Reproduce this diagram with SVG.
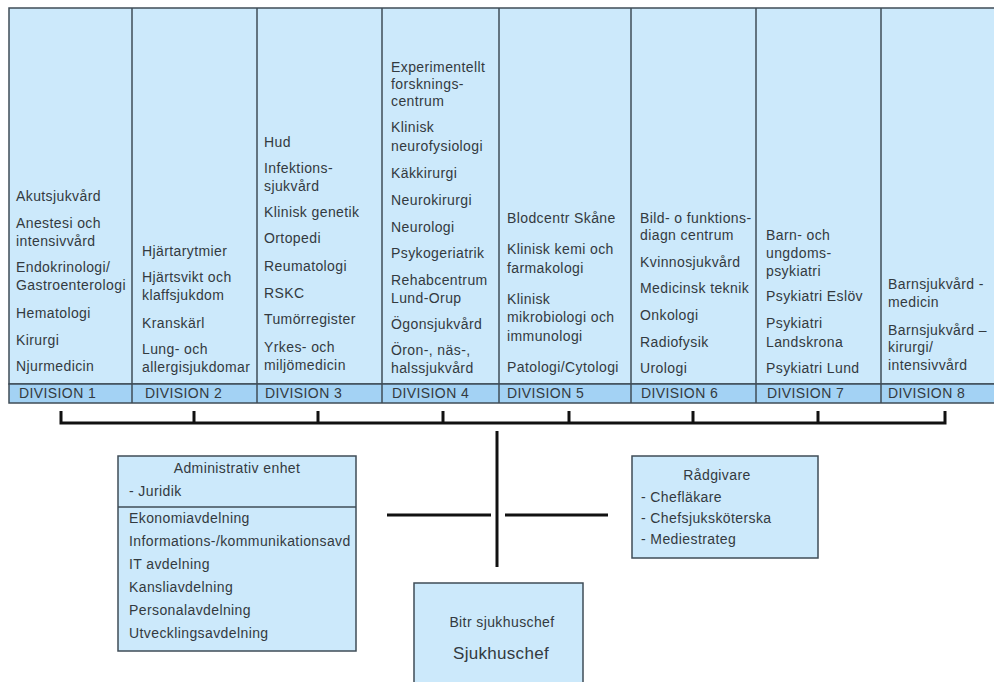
<svg xmlns="http://www.w3.org/2000/svg" width="994" height="682" viewBox="0 0 994 682">
<style>
.bg{fill:#ffffff}
.box{fill:#cce9fb;stroke:#3f4c57;stroke-width:1.5}
.band{fill:#a3d2f4;stroke:#3f4c57;stroke-width:1.5}
.div{stroke:#3f4c57;stroke-width:1.5}
.t{font-family:"Liberation Sans",Arial,sans-serif;font-size:14px;letter-spacing:0.4px;fill:#333a40}
.c{text-anchor:middle}
.big{font-size:17px;letter-spacing:0.3px}
.ln{stroke:#111;stroke-width:3;fill:none}
</style>
<rect class="bg" x="0" y="0" width="994" height="682"/>
<g id="divisions">
<rect class="box" x="9" y="8" width="990" height="376"/>
<rect class="band" x="9" y="384" width="990" height="19"/>
<g class="div">
<line x1="132" y1="8" x2="132" y2="403"/>
<line x1="257" y1="8" x2="257" y2="403"/>
<line x1="382" y1="8" x2="382" y2="403"/>
<line x1="499" y1="8" x2="499" y2="403"/>
<line x1="631" y1="8" x2="631" y2="403"/>
<line x1="756" y1="8" x2="756" y2="403"/>
<line x1="881" y1="8" x2="881" y2="403"/>
</g>
</g>
<g id="division1" class="t">
<text x="16" y="201">Akutsjukvård</text>
<text x="16" y="228">Anestesi och</text>
<text x="16" y="246">intensivvård</text>
<text x="16" y="272">Endokrinologi/</text>
<text x="16" y="290">Gastroenterologi</text>
<text x="16" y="318">Hematologi</text>
<text x="16" y="345">Kirurgi</text>
<text x="16" y="371">Njurmedicin</text>
<text x="19" y="398">DIVISION 1</text>
</g>
<g id="division2" class="t">
<text x="142" y="256">Hjärtarytmier</text>
<text x="142" y="282">Hjärtsvikt och</text>
<text x="142" y="300">klaffsjukdom</text>
<text x="142" y="328">Kranskärl</text>
<text x="142" y="354">Lung- och</text>
<text x="142" y="372">allergisjukdomar</text>
<text x="145" y="398">DIVISION 2</text>
</g>
<g id="division3" class="t">
<text x="264" y="147">Hud</text>
<text x="264" y="173">Infektions-</text>
<text x="264" y="191">sjukvård</text>
<text x="264" y="217">Klinisk genetik</text>
<text x="264" y="243">Ortopedi</text>
<text x="264" y="271">Reumatologi</text>
<text x="264" y="298">RSKC</text>
<text x="264" y="324">Tumörregister</text>
<text x="264" y="352">Yrkes- och</text>
<text x="264" y="370">miljömedicin</text>
<text x="265" y="398">DIVISION 3</text>
</g>
<g id="division4" class="t">
<text x="391" y="72">Experimentellt</text>
<text x="391" y="89">forsknings-</text>
<text x="391" y="106">centrum</text>
<text x="391" y="132">Klinisk</text>
<text x="391" y="151">neurofysiologi</text>
<text x="391" y="178">Käkkirurgi</text>
<text x="391" y="205">Neurokirurgi</text>
<text x="391" y="232">Neurologi</text>
<text x="391" y="258">Psykogeriatrik</text>
<text x="391" y="285">Rehabcentrum</text>
<text x="391" y="303">Lund-Orup</text>
<text x="391" y="329">Ögonsjukvård</text>
<text x="391" y="355">Öron-, näs-,</text>
<text x="391" y="373">halssjukvård</text>
<text x="392" y="398">DIVISION 4</text>
</g>
<g id="division5" class="t">
<text x="507" y="223">Blodcentr Skåne</text>
<text x="507" y="254">Klinisk kemi och</text>
<text x="507" y="273">farmakologi</text>
<text x="507" y="304">Klinisk</text>
<text x="507" y="322">mikrobiologi och</text>
<text x="507" y="341">immunologi</text>
<text x="507" y="372">Patologi/Cytologi</text>
<text x="507" y="398">DIVISION 5</text>
</g>
<g id="division6" class="t">
<text x="640" y="223">Bild- o funktions-</text>
<text x="640" y="240">diagn centrum</text>
<text x="640" y="267">Kvinnosjukvård</text>
<text x="640" y="293">Medicinsk teknik</text>
<text x="640" y="320">Onkologi</text>
<text x="640" y="347">Radiofysik</text>
<text x="640" y="373">Urologi</text>
<text x="641" y="398">DIVISION 6</text>
</g>
<g id="division7" class="t">
<text x="766" y="240">Barn- och</text>
<text x="766" y="258">ungdoms-</text>
<text x="766" y="276">psykiatri</text>
<text x="766" y="301">Psykiatri Eslöv</text>
<text x="766" y="328">Psykiatri</text>
<text x="766" y="347">Landskrona</text>
<text x="766" y="373">Psykiatri Lund</text>
<text x="767" y="398">DIVISION 7</text>
</g>
<g id="division8" class="t">
<text x="888" y="289">Barnsjukvård -</text>
<text x="888" y="307">medicin</text>
<text x="888" y="335">Barnsjukvård –</text>
<text x="888" y="352">kirurgi/</text>
<text x="888" y="370">intensivvård</text>
<text x="888" y="398">DIVISION 8</text>
</g>
<g id="connectors" class="ln">
<polyline points="61,411 61,423 945,423 945,411"/>
<line x1="194" y1="411" x2="194" y2="423"/>
<line x1="318" y1="411" x2="318" y2="423"/>
<line x1="443" y1="411" x2="443" y2="423"/>
<line x1="569" y1="411" x2="569" y2="423"/>
<line x1="693" y1="411" x2="693" y2="423"/>
<line x1="818" y1="411" x2="818" y2="423"/>
<line x1="497" y1="431" x2="497" y2="567"/>
<line x1="387" y1="515" x2="491" y2="515"/>
<line x1="505" y1="515" x2="608" y2="515"/>
</g>
<g id="admin">
<rect class="box" x="118" y="456" width="238" height="195"/>
<line class="div" x1="118" y1="507" x2="356" y2="507"/>
<g class="t">
<text class="c" x="237" y="473">Administrativ enhet</text>
<text x="129" y="496">- Juridik</text>
<text x="129" y="523">Ekonomiavdelning</text>
<text x="129" y="546">Informations-/kommunikationsavd</text>
<text x="129" y="569">IT avdelning</text>
<text x="129" y="592">Kansliavdelning</text>
<text x="129" y="615">Personalavdelning</text>
<text x="129" y="638">Utvecklingsavdelning</text>
</g>
</g>
<g id="radgivare">
<rect class="box" x="632" y="456" width="186" height="102"/>
<g class="t">
<text class="c" x="717" y="480">Rådgivare</text>
<text x="641" y="502">- Chefläkare</text>
<text x="641" y="523">- Chefsjuksköterska</text>
<text x="641" y="544">- Mediestrateg</text>
</g>
</g>
<g id="sjukhuschef">
<rect class="box" x="414" y="583" width="169" height="115"/>
<g class="t">
<text class="c" x="502" y="627">Bitr sjukhuschef</text>
<text class="c big" x="501" y="659">Sjukhuschef</text>
</g>
</g>
</svg>
